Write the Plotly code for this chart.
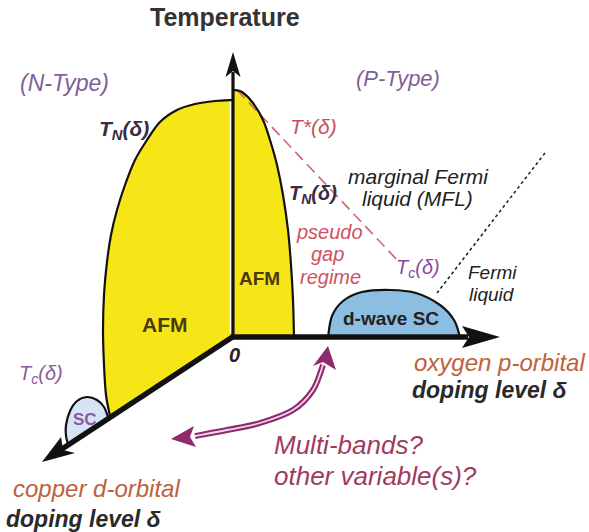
import plotly.graph_objects as go

W, H = 589, 532

# ---------------- schematic data (diagram-space coordinates) ----------------
origin = (233, 337)
t_axis_tip = (233, 52)
p_axis_tip = (500, 337)
d_axis_tip = (42, 462)

# N-type AFM dome boundary T_N(delta)
afm_n_x = [233, 215, 195, 177, 160, 147, 135, 125, 117, 111, 107, 104, 103, 104, 106, 110]
afm_n_y = [100, 101, 104, 110, 122, 140, 160, 185, 210, 235, 262, 295, 330, 365, 395, 416]

# P-type AFM dome boundary T_N(delta)
afm_p_x = [234, 242, 253, 263, 270, 277, 283, 288, 291, 293, 294]
afm_p_y = [90, 92, 103, 120, 140, 165, 195, 230, 265, 300, 337]

# N-type SC bubble T_c(delta)
sc_n_x = [108, 104, 97, 87, 77, 70, 66, 66, 68]
sc_n_y = [417, 407, 400, 397, 401, 411, 425, 436, 444]

# P-type d-wave SC dome T_c(delta)
sc_p_x = [328, 332, 343, 362, 390, 416, 440, 454, 460]
sc_p_y = [337, 316, 301, 292, 290, 293, 305, 320, 337]

# pseudogap crossover T*(delta)
tstar_x = [237, 400]
tstar_y = [90, 263]

# Fermi-liquid crossover
fl_x = [545, 437]
fl_y = [153, 293]

# double-headed "other variable" arrow
arc_x = [323, 313, 293, 260, 227, 195]
arc_y = [365, 390, 410, 423, 430, 436]

# ---------------- helpers ----------------
def smooth_path(xs, ys):
    pts = list(zip(xs, ys))
    d = f"M {pts[0][0]},{pts[0][1]}"
    n = len(pts)
    for i in range(n - 1):
        p0 = pts[i - 1] if i > 0 else pts[i]
        p1 = pts[i]
        p2 = pts[i + 1]
        p3 = pts[i + 2] if i + 2 < n else pts[i + 1]
        c1 = (p1[0] + (p2[0] - p0[0]) / 6, p1[1] + (p2[1] - p0[1]) / 6)
        c2 = (p2[0] - (p3[0] - p1[0]) / 6, p2[1] - (p3[1] - p1[1]) / 6)
        d += f" C {c1[0]:.2f},{c1[1]:.2f} {c2[0]:.2f},{c2[1]:.2f} {p2[0]},{p2[1]}"
    return d


def arrowhead(tip, back1, notch, back2):
    return (f"M {tip[0]},{tip[1]} L {back1[0]},{back1[1]} L {notch[0]},{notch[1]} "
            f"L {back2[0]},{back2[1]} Z")


shapes = []

def path_shape(path, fill=None, line_color=None, width=0, dash=None):
    s = dict(type="path", path=path, xref="x", yref="y", layer="above",
             line=dict(width=width, color=line_color or "rgba(0,0,0,0)"))
    if dash:
        s["line"]["dash"] = dash
    if fill:
        s["fillcolor"] = fill
    shapes.append(s)


def line_shape(x0, y0, x1, y1, color, width, dash=None):
    s = dict(type="line", x0=x0, y0=y0, x1=x1, y1=y1, xref="x", yref="y", layer="above",
             line=dict(color=color, width=width))
    if dash:
        s["line"]["dash"] = dash
    shapes.append(s)


YELLOW = "#f7e617"
BLUE = "#8cbee1"
LIGHTBLUE = "#d7e4f5"
PURPLE_ARROW = "#8e2a6e"

# fills
path_shape(smooth_path(afm_n_x, afm_n_y) + f" L {origin[0]},{origin[1]} Z", fill=YELLOW)
path_shape(smooth_path(afm_p_x, afm_p_y) + f" L {origin[0]},{origin[1]} Z", fill=YELLOW)
path_shape(smooth_path(sc_n_x, sc_n_y) + " Z", fill=LIGHTBLUE)
path_shape(smooth_path(sc_p_x, sc_p_y) + " Z", fill=BLUE)

# thin white separation next to T axis
line_shape(230.5, 101, 230.5, 333, "white", 1.5)

# crossover lines
line_shape(tstar_x[0], tstar_y[0], tstar_x[1], tstar_y[1], "#d06478", 1.6, dash="11px,6px")
line_shape(fl_x[0], fl_y[0], fl_x[1], fl_y[1], "#222222", 1.6, dash="dot")

# outlines
path_shape(smooth_path(afm_n_x, afm_n_y), line_color="#111111", width=2.2)
path_shape(smooth_path(afm_p_x, afm_p_y), line_color="#111111", width=2.2)
path_shape(smooth_path(sc_n_x, sc_n_y), line_color="#111111", width=2.2)
path_shape(smooth_path(sc_p_x, sc_p_y), line_color="#111111", width=2.2)

# axes
line_shape(origin[0], origin[1], t_axis_tip[0], 72, "#111111", 3.2)
line_shape(origin[0] - 2, origin[1], 468, p_axis_tip[1], "#111111", 5.5)
line_shape(origin[0] + 1, origin[1] - 1, 62, 449, "#111111", 5.5)
path_shape(arrowhead(t_axis_tip, (225.5, 77), (233, 71), (240.5, 77)), fill="#111111")
path_shape(arrowhead(p_axis_tip, (462, 326), (469, 337), (462, 348)), fill="#111111")
path_shape(arrowhead(d_axis_tip, (61, 437), (63, 450), (75, 453)), fill="#111111")

# double-headed curved arrow
path_shape(smooth_path(arc_x, arc_y), line_color=PURPLE_ARROW, width=6)
path_shape(smooth_path(arc_x, arc_y), line_color="#f3d6ec", width=1.8)
path_shape(arrowhead((328, 346), (313, 366), (323, 362), (336, 370)), fill=PURPLE_ARROW)
path_shape(arrowhead((171, 439), (194, 426), (190, 437), (196, 447)), fill=PURPLE_ARROW)

# ---------------- labels ----------------
FONT = "Liberation Sans, Arial, sans-serif"
annotations = []

def label(x, y, text, size, color, xanchor="center"):
    annotations.append(dict(x=x, y=y, xref="x", yref="y", text=text, showarrow=False,
                            xanchor=xanchor, yanchor="middle", align="center",
                            font=dict(family=FONT, size=size, color=color)))

label(225, 17, "<b>Temperature</b>", 25, "#333333")
label(64, 83, "<i>(N-Type)</i>", 23, "#7f5f99")
label(398, 78, "<i>(P-Type)</i>", 22, "#7f5f99")
label(124, 130, "<b><i>T<sub>N</sub>(δ)</i></b>", 21, "#3b2d3d")
label(313, 126, "<i>T*(δ)</i>", 21, "#c8505e")
label(313, 194, "<b><i>T<sub>N</sub>(δ)</i></b>", 20, "#3b2d3d")
label(418, 176, "<i>marginal Fermi</i>", 21, "#222222")
label(417, 198, "<i>liquid (MFL)</i>", 21, "#222222")
label(329, 232, "<i>pseudo</i>", 20, "#d0505e")
label(327, 254, "<i>gap</i>", 20, "#d0505e")
label(330, 277, "<i>regime</i>", 20, "#d0505e")
label(418, 268, "<i>T<sub>c</sub>(δ)</i>", 20, "#8a4a9c")
label(492, 272, "<i>Fermi</i>", 19, "#222222")
label(492, 294, "<i>liquid</i>", 19, "#222222")
label(259, 278, "<b>AFM</b>", 19, "#4a3a10")
label(165, 324, "<b>AFM</b>", 21, "#4a3a10")
label(391, 318, "<b>d-wave SC</b>", 19, "#222222")
label(234, 355, "<b><i>0</i></b>", 20, "#222222")
label(41, 374, "<i>T<sub>c</sub>(δ)</i>", 20, "#8a5a9c")
label(85, 419, "<b>SC</b>", 17, "#8a5a9c")
label(499, 362, "<i>oxygen p-orbital</i>", 24, "#c0603c")
label(490, 390, "<b><i>doping level δ</i></b>", 23, "#2a2a2a")
label(96, 488, "<i>copper d-orbital</i>", 24, "#c0603c")
label(84, 519, "<b><i>doping level δ</i></b>", 23, "#2a2a2a")
label(272, 445, "<i>Multi-bands?</i>", 26, "#a03a5e", xanchor="left")
label(272, 476, "<i>other variable(s)?</i>", 26, "#a03a5e", xanchor="left")

fig = go.Figure()
fig.update_layout(
    width=W, height=H, autosize=False,
    margin=dict(l=0, r=0, t=0, b=0, pad=0),
    paper_bgcolor="white", plot_bgcolor="white",
    xaxis=dict(range=[0, W], visible=False, fixedrange=True),
    yaxis=dict(range=[H, 0], visible=False, fixedrange=True),
    shapes=shapes, annotations=annotations, showlegend=False,
)
fig.write_html("out.html")
